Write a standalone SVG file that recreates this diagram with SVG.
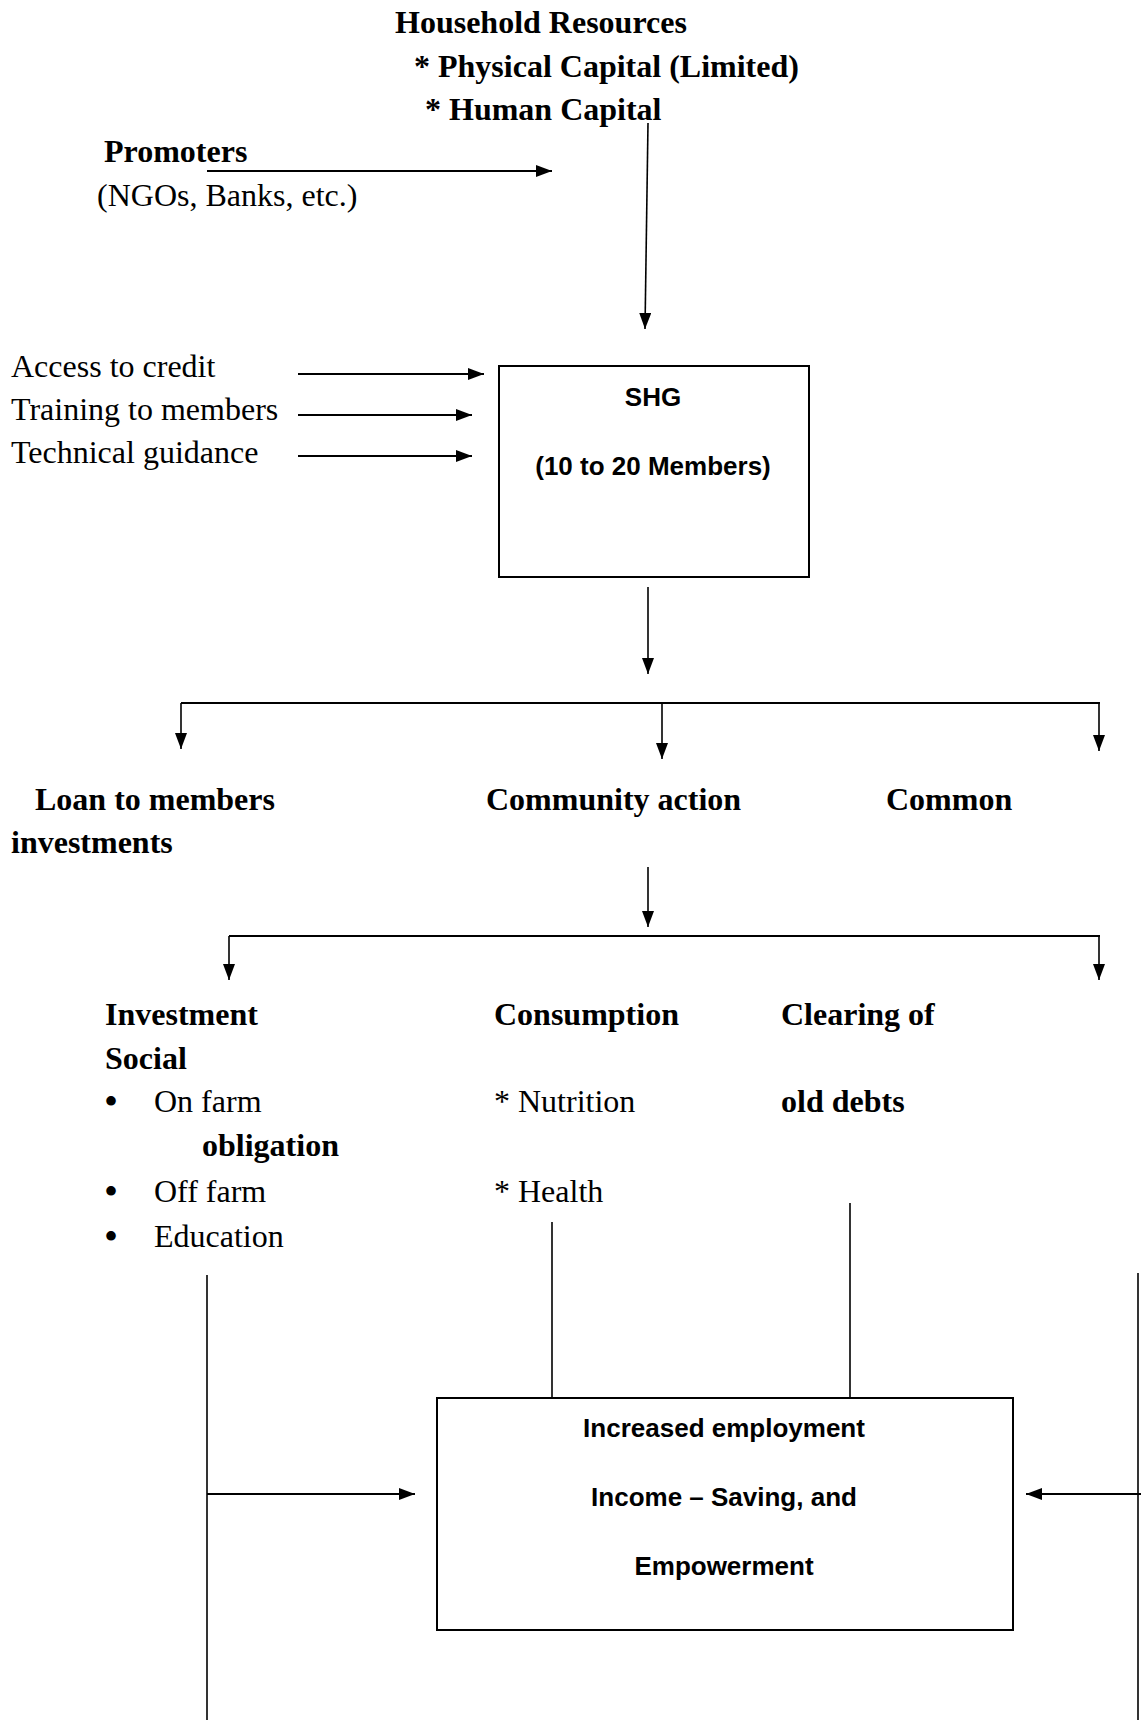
<svg xmlns="http://www.w3.org/2000/svg" width="1141" height="1720" viewBox="0 0 1141 1720">
<style>
.sb{font-family:"Liberation Serif","Times New Roman",serif;font-weight:bold;font-size:32px;fill:#000}
.sr{font-family:"Liberation Serif","Times New Roman",serif;font-size:32px;fill:#000}
.bu{font-family:"Liberation Serif","Times New Roman",serif;font-size:40px;fill:#000}
.cb{font-family:"Liberation Sans",Arial,sans-serif;font-weight:bold;font-size:26px;fill:#000}
.ln{stroke:#000;stroke-width:1.6;fill:none}
.lh{stroke:#000;stroke-width:2.2;fill:none}
.box{fill:#fff;stroke:#000;stroke-width:2}
</style>
<defs>
<marker id="ah" viewBox="0 0 16 12" refX="16" refY="6" markerWidth="16" markerHeight="12" markerUnits="userSpaceOnUse" orient="auto"><path d="M0,0 L16,6 L0,12 z" fill="#000"/></marker>
</defs>
<rect width="1141" height="1720" fill="#fff"/>
<g id="connectors">
<path class="lh" d="M207,171 H552" marker-end="url(#ah)"/>
<path class="ln" d="M648,123 L645,329" marker-end="url(#ah)"/>
<path class="lh" d="M298,374 H484" marker-end="url(#ah)"/>
<path class="lh" d="M298,415 H472" marker-end="url(#ah)"/>
<path class="lh" d="M298,456 H472" marker-end="url(#ah)"/>
<path class="ln" d="M648,587 V674" marker-end="url(#ah)"/>
<path class="lh" d="M181,703 H1100"/>
<path class="ln" d="M181,703 V749" marker-end="url(#ah)"/>
<path class="ln" d="M662,703 V759" marker-end="url(#ah)"/>
<path class="ln" d="M1099,703 V751" marker-end="url(#ah)"/>
<path class="ln" d="M648,867 V927" marker-end="url(#ah)"/>
<path class="lh" d="M229,936 H1100"/>
<path class="ln" d="M229,936 V980" marker-end="url(#ah)"/>
<path class="ln" d="M1099,936 V980" marker-end="url(#ah)"/>
<path class="ln" d="M207,1275 V1720"/>
<path class="lh" d="M207,1494 H415" marker-end="url(#ah)"/>
<path class="ln" d="M552,1222 V1398"/>
<path class="ln" d="M850,1203 V1398"/>
<path class="ln" d="M1138,1273 V1720"/>
<path class="lh" d="M1141,1494 H1026" marker-end="url(#ah)"/>
</g>
<g id="household">
<text class="sb" x="395" y="33">Household Resources</text>
<text class="sb" x="414" y="77">* Physical Capital (Limited)</text>
<text class="sb" x="425" y="120">* Human Capital</text>
</g>
<g id="promoters">
<text class="sb" x="104" y="162">Promoters</text>
<text class="sr" x="97" y="206">(NGOs, Banks, etc.)</text>
</g>
<g id="inputs">
<text class="sr" x="11" y="377">Access to credit</text>
<text class="sr" x="11" y="420">Training to members</text>
<text class="sr" x="11" y="463">Technical guidance</text>
</g>
<g id="shg">
<rect class="box" x="499" y="366" width="310" height="211"/>
<text class="cb" x="653" y="406" text-anchor="middle">SHG</text>
<text class="cb" x="653" y="475" text-anchor="middle">(10 to 20 Members)</text>
</g>
<g id="loan">
<text class="sb" x="35" y="810">Loan to members</text>
<text class="sb" x="11" y="853">investments</text>
</g>
<g id="community">
<text class="sb" x="486" y="810">Community action</text>
</g>
<g id="common">
<text class="sb" x="886" y="810">Common</text>
</g>
<g id="investment">
<text class="sb" x="105" y="1025">Investment</text>
<text class="sb" x="105" y="1069">Social</text>
<text class="bu" x="104" y="1115">•</text>
<text class="sr" x="154" y="1112">On farm</text>
<text class="sb" x="202" y="1156">obligation</text>
<text class="bu" x="104" y="1205">•</text>
<text class="sr" x="154" y="1202">Off farm</text>
<text class="bu" x="104" y="1250">•</text>
<text class="sr" x="154" y="1247">Education</text>
</g>
<g id="consumption">
<text class="sb" x="494" y="1025">Consumption</text>
<text class="sr" x="494" y="1112">* Nutrition</text>
<text class="sr" x="494" y="1202">* Health</text>
</g>
<g id="clearing">
<text class="sb" x="781" y="1025">Clearing of</text>
<text class="sb" x="781" y="1112">old debts</text>
</g>
<g id="outcome">
<rect class="box" x="437" y="1398" width="576" height="232"/>
<text class="cb" x="724" y="1437" text-anchor="middle">Increased employment</text>
<text class="cb" x="724" y="1506" text-anchor="middle">Income – Saving, and</text>
<text class="cb" x="724" y="1575" text-anchor="middle">Empowerment</text>
</g>
</svg>
